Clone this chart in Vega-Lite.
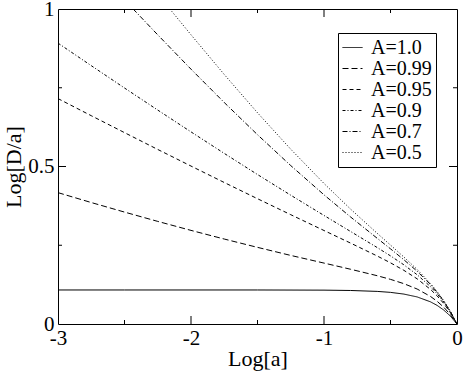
{
  "$schema": "https://vega.github.io/schema/vega-lite/v6.json",
  "autosize": "none",
  "width": 399,
  "height": 315,
  "padding": {"left": 58, "top": 9, "right": 6, "bottom": 47},
  "background": "white",
  "config": {
    "view": {"stroke": "black", "strokeWidth": 1},
    "font": "Liberation Serif",
    "tick": {"thickness": 1, "color": "black", "opacity": 1},
    "axis": {"grid": false, "domain": false, "ticks": false, "labelColor": "black", "titleColor": "black", "labelFont": "Liberation Serif", "titleFont": "Liberation Serif", "labelFontSize": 21, "titleFontSize": 22, "titleFontWeight": "normal"},
    "legend": {"orient": "none", "legendX": 280, "legendY": 24, "symbolType": "stroke", "symbolSize": 400, "symbolStrokeWidth": 1, "symbolStrokeColor": "black", "labelFont": "Liberation Serif", "labelFontSize": 20, "labelColor": "black", "strokeColor": "black", "fillColor": "white", "padding": 4, "rowPadding": 0, "labelOffset": 8}
  },
  "datasets": {
    "ticks": [
      {"side":"bottom","v":-2.5,"at":0,"k":"minor"},{"side":"bottom","v":-2,"at":0,"k":"major"},{"side":"bottom","v":-1.5,"at":0,"k":"minor"},{"side":"bottom","v":-1,"at":0,"k":"major"},{"side":"bottom","v":-0.5,"at":0,"k":"minor"},
      {"side":"top","v":-2.5,"at":1,"k":"minor"},{"side":"top","v":-2,"at":1,"k":"major"},{"side":"top","v":-1.5,"at":1,"k":"minor"},{"side":"top","v":-1,"at":1,"k":"major"},{"side":"top","v":-0.5,"at":1,"k":"minor"},
      {"side":"left","v":0.25,"at":-3,"k":"minor"},{"side":"left","v":0.5,"at":-3,"k":"major"},{"side":"left","v":0.75,"at":-3,"k":"minor"},
      {"side":"right","v":0.25,"at":0,"k":"minor"},{"side":"right","v":0.5,"at":0,"k":"major"},{"side":"right","v":0.75,"at":0,"k":"minor"}
    ]
  },
  "data": {"values": [
    {"s":"A=1.0","x":-3,"y":0.108},{"s":"A=1.0","x":-2.5,"y":0.108},{"s":"A=1.0","x":-2,"y":0.108},{"s":"A=1.0","x":-1.5,"y":0.108},{"s":"A=1.0","x":-1,"y":0.1075},{"s":"A=1.0","x":-0.8,"y":0.1064},{"s":"A=1.0","x":-0.6,"y":0.1035},{"s":"A=1.0","x":-0.5,"y":0.1004},{"s":"A=1.0","x":-0.4,"y":0.095},{"s":"A=1.0","x":-0.3,"y":0.086},{"s":"A=1.0","x":-0.2,"y":0.0705},{"s":"A=1.0","x":-0.15,"y":0.0592},{"s":"A=1.0","x":-0.1,"y":0.0444},{"s":"A=1.0","x":-0.05,"y":0.0252},{"s":"A=1.0","x":0,"y":0},
    {"s":"A=0.99","x":-3,"y":0.417},{"s":"A=0.99","x":-2.75,"y":0.3856},{"s":"A=0.99","x":-2.5,"y":0.3553},{"s":"A=0.99","x":-2.25,"y":0.3257},{"s":"A=0.99","x":-2,"y":0.2972},{"s":"A=0.99","x":-1.75,"y":0.2697},{"s":"A=0.99","x":-1.5,"y":0.2433},{"s":"A=0.99","x":-1.25,"y":0.2177},{"s":"A=0.99","x":-1,"y":0.1934},{"s":"A=0.99","x":-0.8,"y":0.1738},{"s":"A=0.99","x":-0.6,"y":0.1533},{"s":"A=0.99","x":-0.5,"y":0.1417},{"s":"A=0.99","x":-0.4,"y":0.1281},{"s":"A=0.99","x":-0.3,"y":0.1111},{"s":"A=0.99","x":-0.2,"y":0.0877},{"s":"A=0.99","x":-0.15,"y":0.0723},{"s":"A=0.99","x":-0.1,"y":0.0534},{"s":"A=0.99","x":-0.05,"y":0.0299},{"s":"A=0.99","x":0,"y":0},
    {"s":"A=0.95","x":-3,"y":0.7156},{"s":"A=0.95","x":-2.75,"y":0.6613},{"s":"A=0.95","x":-2.5,"y":0.6075},{"s":"A=0.95","x":-2.25,"y":0.5541},{"s":"A=0.95","x":-2,"y":0.5014},{"s":"A=0.95","x":-1.75,"y":0.4492},{"s":"A=0.95","x":-1.5,"y":0.3977},{"s":"A=0.95","x":-1.25,"y":0.347},{"s":"A=0.95","x":-1,"y":0.2968},{"s":"A=0.95","x":-0.8,"y":0.2568},{"s":"A=0.95","x":-0.6,"y":0.2159},{"s":"A=0.95","x":-0.5,"y":0.1942},{"s":"A=0.95","x":-0.4,"y":0.1705},{"s":"A=0.95","x":-0.3,"y":0.1435},{"s":"A=0.95","x":-0.2,"y":0.1101},{"s":"A=0.95","x":-0.15,"y":0.0895},{"s":"A=0.95","x":-0.1,"y":0.0653},{"s":"A=0.95","x":-0.05,"y":0.0361},{"s":"A=0.95","x":0,"y":0},
    {"s":"A=0.9","x":-3,"y":0.8917},{"s":"A=0.9","x":-2.75,"y":0.8201},{"s":"A=0.9","x":-2.5,"y":0.7492},{"s":"A=0.9","x":-2.25,"y":0.6791},{"s":"A=0.9","x":-2,"y":0.6099},{"s":"A=0.9","x":-1.75,"y":0.5416},{"s":"A=0.9","x":-1.5,"y":0.4745},{"s":"A=0.9","x":-1.25,"y":0.4089},{"s":"A=0.9","x":-1,"y":0.3446},{"s":"A=0.9","x":-0.8,"y":0.2937},{"s":"A=0.9","x":-0.6,"y":0.2427},{"s":"A=0.9","x":-0.5,"y":0.2163},{"s":"A=0.9","x":-0.4,"y":0.188},{"s":"A=0.9","x":-0.3,"y":0.1565},{"s":"A=0.9","x":-0.2,"y":0.1188},{"s":"A=0.9","x":-0.15,"y":0.0962},{"s":"A=0.9","x":-0.1,"y":0.0698},{"s":"A=0.9","x":-0.05,"y":0.0384},{"s":"A=0.9","x":0,"y":0},
    {"s":"A=0.7","x":-2.435,"y":1.0},{"s":"A=0.7","x":-2.25,"y":0.9179},{"s":"A=0.7","x":-2,"y":0.809},{"s":"A=0.7","x":-1.75,"y":0.7031},{"s":"A=0.7","x":-1.5,"y":0.6009},{"s":"A=0.7","x":-1.25,"y":0.5029},{"s":"A=0.7","x":-1,"y":0.4101},{"s":"A=0.7","x":-0.8,"y":0.3397},{"s":"A=0.7","x":-0.6,"y":0.2721},{"s":"A=0.7","x":-0.5,"y":0.2386},{"s":"A=0.7","x":-0.4,"y":0.2042},{"s":"A=0.7","x":-0.3,"y":0.1676},{"s":"A=0.7","x":-0.2,"y":0.1255},{"s":"A=0.7","x":-0.15,"y":0.1009},{"s":"A=0.7","x":-0.1,"y":0.0728},{"s":"A=0.7","x":-0.05,"y":0.0399},{"s":"A=0.7","x":0,"y":0},
    {"s":"A=0.5","x":-2.159,"y":1.0},{"s":"A=0.5","x":-2,"y":0.9182},{"s":"A=0.5","x":-1.75,"y":0.7921},{"s":"A=0.5","x":-1.5,"y":0.6706},{"s":"A=0.5","x":-1.25,"y":0.5549},{"s":"A=0.5","x":-1,"y":0.4461},{"s":"A=0.5","x":-0.8,"y":0.3647},{"s":"A=0.5","x":-0.6,"y":0.2879},{"s":"A=0.5","x":-0.5,"y":0.2506},{"s":"A=0.5","x":-0.4,"y":0.2128},{"s":"A=0.5","x":-0.3,"y":0.1733},{"s":"A=0.5","x":-0.2,"y":0.1289},{"s":"A=0.5","x":-0.15,"y":0.1034},{"s":"A=0.5","x":-0.1,"y":0.0743},{"s":"A=0.5","x":-0.05,"y":0.0406},{"s":"A=0.5","x":0,"y":0}
  ]},
  "layer": [
    {
      "mark": {"type": "line", "color": "black", "strokeWidth": 1, "clip": true},
      "encoding": {
        "x": {"field": "x", "type": "quantitative", "scale": {"domain": [-3, 0], "nice": false, "zero": false},
          "axis": {"orient": "bottom", "title": "Log[a]", "values": [-3, -2, -1, 0],
            "labelExpr": "'' + datum.value", "labelPadding": 3, "titlePadding": 0, "labelFlush": false}},
        "y": {"field": "y", "type": "quantitative", "scale": {"domain": [0, 1], "nice": false, "zero": false},
          "axis": {"orient": "left", "title": "Log[D/a]", "values": [0, 0.5, 1],
            "labelExpr": "'' + datum.value", "labelPadding": 4, "titlePadding": 2, "labelFlush": false}},
        "strokeDash": {"field": "s", "type": "nominal",
          "scale": {"domain": ["A=1.0", "A=0.99", "A=0.95", "A=0.9", "A=0.7", "A=0.5"],
            "range": [[1, 0], [6, 3], [4, 3], [3, 2, 1, 2], [5, 2, 1, 2], [1, 2]]},
          "legend": {"title": null}}
      }
    },
    {"data": {"name": "ticks"}, "transform": [{"filter": "datum.side === 'bottom' && datum.k === 'major'"}],
      "mark": {"type": "tick", "orient": "vertical", "size": 8, "yOffset": -4},
      "encoding": {"x": {"field": "v", "type": "quantitative"}, "y": {"field": "at", "type": "quantitative"}}},
    {"data": {"name": "ticks"}, "transform": [{"filter": "datum.side === 'bottom' && datum.k === 'minor'"}],
      "mark": {"type": "tick", "orient": "vertical", "size": 4, "yOffset": -2},
      "encoding": {"x": {"field": "v", "type": "quantitative"}, "y": {"field": "at", "type": "quantitative"}}},
    {"data": {"name": "ticks"}, "transform": [{"filter": "datum.side === 'top' && datum.k === 'major'"}],
      "mark": {"type": "tick", "orient": "vertical", "size": 8, "yOffset": 4},
      "encoding": {"x": {"field": "v", "type": "quantitative"}, "y": {"field": "at", "type": "quantitative"}}},
    {"data": {"name": "ticks"}, "transform": [{"filter": "datum.side === 'top' && datum.k === 'minor'"}],
      "mark": {"type": "tick", "orient": "vertical", "size": 4, "yOffset": 2},
      "encoding": {"x": {"field": "v", "type": "quantitative"}, "y": {"field": "at", "type": "quantitative"}}},
    {"data": {"name": "ticks"}, "transform": [{"filter": "datum.side === 'left' && datum.k === 'major'"}],
      "mark": {"type": "tick", "orient": "horizontal", "size": 8, "xOffset": 4},
      "encoding": {"x": {"field": "at", "type": "quantitative"}, "y": {"field": "v", "type": "quantitative"}}},
    {"data": {"name": "ticks"}, "transform": [{"filter": "datum.side === 'left' && datum.k === 'minor'"}],
      "mark": {"type": "tick", "orient": "horizontal", "size": 4, "xOffset": 2},
      "encoding": {"x": {"field": "at", "type": "quantitative"}, "y": {"field": "v", "type": "quantitative"}}},
    {"data": {"name": "ticks"}, "transform": [{"filter": "datum.side === 'right' && datum.k === 'major'"}],
      "mark": {"type": "tick", "orient": "horizontal", "size": 8, "xOffset": -4},
      "encoding": {"x": {"field": "at", "type": "quantitative"}, "y": {"field": "v", "type": "quantitative"}}},
    {"data": {"name": "ticks"}, "transform": [{"filter": "datum.side === 'right' && datum.k === 'minor'"}],
      "mark": {"type": "tick", "orient": "horizontal", "size": 4, "xOffset": -2},
      "encoding": {"x": {"field": "at", "type": "quantitative"}, "y": {"field": "v", "type": "quantitative"}}}
  ]
}
